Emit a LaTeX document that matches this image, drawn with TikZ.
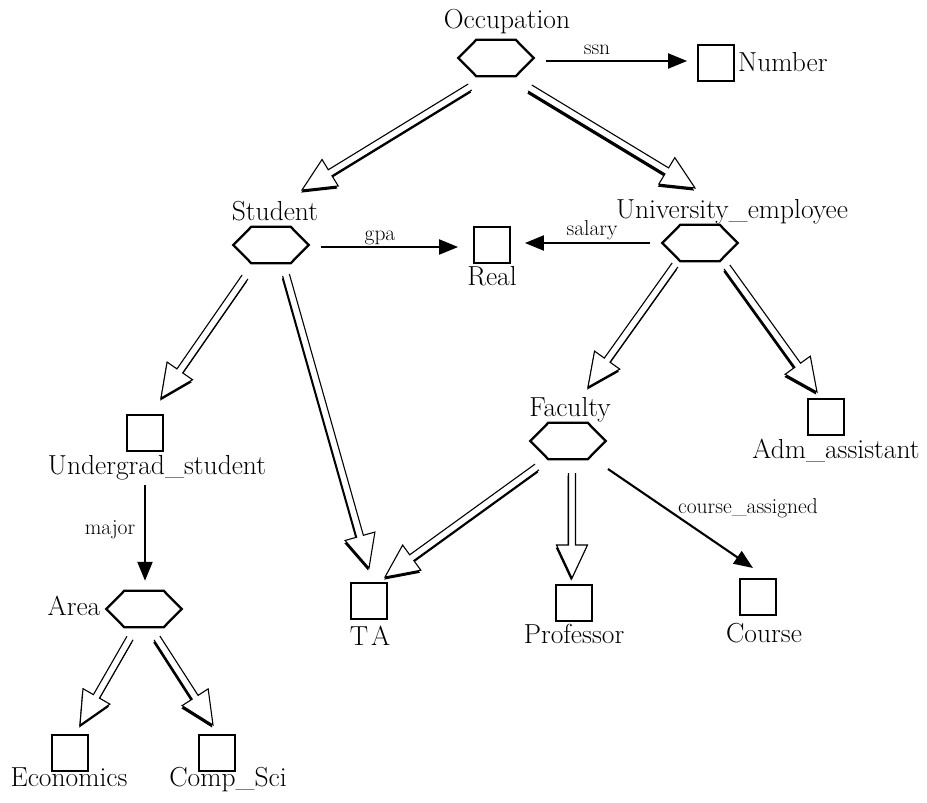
\documentclass[tikz,border=0pt]{standalone}
\usetikzlibrary{arrows.meta,calc}

% hexagonal class symbol drawn around an (invisible) rectangular node
\newcommand\hexat[1]{%
  \draw[hexline] (#1.west) -- ([xshift=18pt]#1.north west) -- ([xshift=-18pt]#1.north east)
    -- (#1.east) -- ([xshift=-18pt]#1.south east) -- ([xshift=18pt]#1.south west) -- cycle;}

% hollow "is-a" arrow with a small drop shadow: #1 start, #2 tip
\newcommand\isa[2]{%
  \coordinate (isaS) at (#1);
  \coordinate (isaE) at (#2);
  \coordinate (isaB)  at ($(isaE)!33pt!(isaS)$);
  \coordinate (isaSL) at ($(isaS)!3.5pt!90:(isaE)$);
  \coordinate (isaSR) at ($(isaS)!3.5pt!-90:(isaE)$);
  \coordinate (isaBL) at ($(isaB)!3.5pt!90:(isaE)$);
  \coordinate (isaBR) at ($(isaB)!3.5pt!-90:(isaE)$);
  \coordinate (isaHL) at ($(isaB)!15.5pt!90:(isaE)$);
  \coordinate (isaHR) at ($(isaB)!15.5pt!-90:(isaE)$);
  \fill[black, transform canvas={shift={(-0.8pt,-2.6pt)}}]
    (isaSL) -- (isaBL) -- (isaHL) -- (isaE) -- (isaHR) -- (isaBR) -- (isaSR) -- cycle;
  \fill[white]
    (isaSL) -- (isaBL) -- (isaHL) -- (isaE) -- (isaHR) -- (isaBR) -- (isaSR) -- cycle;
  \draw[isaline]
    (isaSL) -- (isaBL) -- (isaHL) -- (isaE) -- (isaHR) -- (isaBR) -- (isaSR);}

\begin{document}
\begin{tikzpicture}[x=1pt,y=-1pt,
  box/.style={draw, line width=1.8pt, minimum size=36pt, inner sep=0pt},
  hexnode/.style={minimum width=75pt, minimum height=36pt, inner sep=0pt},
  hexline/.style={line width=2.3pt, line join=miter},
  isaline/.style={line width=1.1pt, line join=miter},
  lbl/.style={font=\fontsize{27.5}{32}\selectfont, inner sep=0pt, anchor=base},
  rel/.style={font=\fontsize{21.5}{25}\selectfont, inner sep=0pt, anchor=base},
  attr/.style={line width=2.1pt, -{Triangle[length=19pt,width=15pt]}},
]
\useasboundingbox (0,0) rectangle (927,803);

% classes (hexagons) and value types (squares)
\node[hexnode] (occ)  at (496,58)  {};
\node[hexnode] (stu)  at (271,245) {};
\node[hexnode] (ue)   at (700,243) {};
\node[hexnode] (fac)  at (568,441) {};
\node[hexnode] (area) at (144,609) {};
\foreach \h in {occ,stu,ue,fac,area} {\hexat{\h}}

\node[box] (num)    at (716,63)  {};
\node[box] (real)   at (492,245) {};
\node[box] (adm)    at (826,417) {};
\node[box] (ug)     at (145,433) {};
\node[box] (eco)    at (70,753)  {};
\node[box] (cs)     at (217,753) {};
\node[box] (ta)     at (369,601) {};
\node[box] (prof)   at (574,603) {};
\node[box] (course) at (758,597) {};

% names
\node[lbl] (occL)    at (507,28)  {Occupation};
\node[lbl, anchor=base west] (numL) at (738,71) {Number};
\node[lbl] (stuL)    at (275,220) {Student};
\node[lbl] (realL)   at (492,285) {Real};
\node[lbl] (ueL)     at (732,218) {University\_employee};
\node[lbl] (admL)    at (836,458) {Adm\_assistant};
\node[lbl] (facL)    at (570,416) {Faculty};
\node[lbl] (ugL)     at (157,474) {Undergrad\_student};
\node[lbl] (areaL)   at (74,615)  {Area};
\node[lbl] (ecoL)    at (69,786)  {Economics};
\node[lbl] (csL)     at (228,786) {Comp\_Sci};
\node[lbl] (taL)     at (370,645) {T\kern3pt A};
\node[lbl] (profL)   at (574,643) {Professor};
\node[lbl] (courseL) at (764,642) {Course};

% attributes
\draw[attr] ($(occ.east)+(12,3)$) -- ($(num.west)+(-10,-2)$);
\node[rel] (ssnL) at (597,54) {ssn};
\draw[attr] ($(stu.east)+(12,2)$) -- ($(real.west)+(-15,2)$);
\node[rel] (gpaL) at (380,240) {gpa};
\draw[attr] ($(ue.west)+(-12,0)$) -- ($(real.east)+(14,-2)$);
\node[rel] (salL) at (592,235) {salary};
\draw[attr] ($(ug)+(0,52)$) -- ($(area.north)+(1,-10)$);
\node[rel] (majL) at (110,534) {major};
\draw[attr] ($(fac)+(40,28)$) -- ($(course)+(-5,-29)$);
\node[rel] (caL) at (748,513) {course\_assigned};

% is-a links
\isa{$(occ)+(-26,29)$}{$(stu)+(31,-55)$}
\isa{$(occ)+(34,30)$}{$(ue)+(-5,-55)$}
\isa{$(stu)+(-26,32)$}{$(ug)+(16,-35)$}
\isa{$(stu)+(15,30)$}{$(ta)+(0,-33)$}
\isa{$(ue)+(-25,22)$}{$(fac)+(20,-54)$}
\isa{$(ue)+(27,24)$}{$(adm)+(-9,-25)$}
\isa{$(fac)+(-31,26)$}{$(ta)+(16,-24)$}
\isa{$(fac)+(4,32)$}{$(prof)+(-2,-25)$}
\isa{$(area)+(-14,29)$}{$(eco)+(10,-28)$}
\isa{$(area)+(13,29)$}{$(cs)+(-4,-28)$}
\end{tikzpicture}
\end{document}
